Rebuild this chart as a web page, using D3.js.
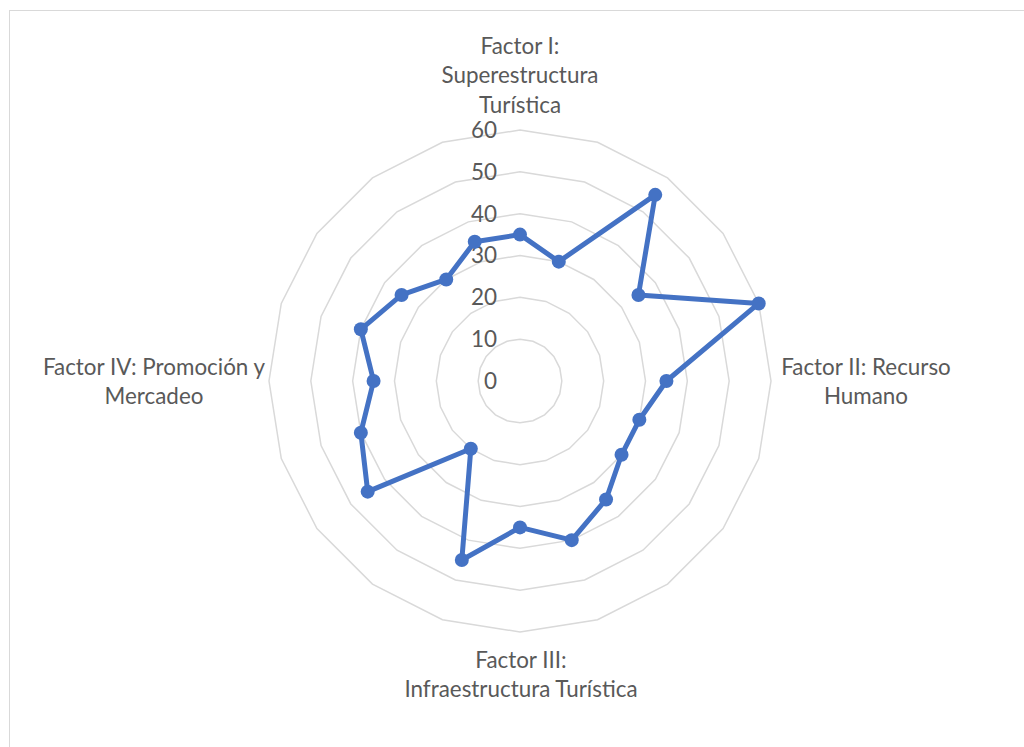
<!DOCTYPE html>
<html>
<head>
<meta charset="utf-8">
<script src="https://cdn.jsdelivr.net/npm/d3@7"></script>
<style>
  body { margin: 0; background: #fff; }
  text { font-family: Lato, "Liberation Sans", sans-serif; fill: #595959; }
</style>
</head>
<body>
<div id="container"></div>
<script>
// data, one value per spoke, clockwise from top
var values = [35, 30, 55, 35, 60, 35, 30, 30, 35, 40, 35, 45, 20, 45, 40, 35, 40, 35, 30, 35];
var ticks = [0, 10, 20, 30, 40, 50, 60];
// only four spokes carry a label
var axisLabels = [
  {i: 0,  lines: ["Factor I:", "Superestructura", "Turística"]},
  {i: 5,  lines: ["Factor II: Recurso", "Humano"]},
  {i: 10, lines: ["Factor III:", "Infraestructura Turística"]},
  {i: 15, lines: ["Factor IV: Promoción y", "Mercadeo"]}
];

var w = 1024, h = 747;
var cx = 520, cy = 381, R = 251;
var svg = d3.select("#container").append("svg")
  .attr("width", w).attr("height", h);

// chart area border
svg.append("rect")
  .attr("x", 9.5).attr("y", 10.5)
  .attr("width", w + 20).attr("height", h + 20)
  .attr("fill", "none").attr("stroke", "#d9d9d9").attr("stroke-width", 1);

var n = values.length;
var angle = d3.scaleLinear().domain([0, n]).range([0, 2 * Math.PI]);
var r = d3.scaleLinear().domain([0, 60]).range([0, R]);

var g = svg.append("g").attr("transform", "translate(" + cx + "," + cy + ")");

// grid rings
var ring = d3.lineRadial().curve(d3.curveLinearClosed);
g.selectAll("path.grid")
  .data(ticks.filter(function(t) { return t > 0; }))
  .enter().append("path")
  .attr("class", "grid")
  .attr("d", function(t) {
    return ring(d3.range(n).map(function(i) { return [angle(i), r(t)]; }));
  })
  .attr("fill", "none").attr("stroke", "#d9d9d9").attr("stroke-width", 1.5);

// tick labels
g.selectAll("text.tick")
  .data(ticks)
  .enter().append("text")
  .attr("class", "tick")
  .attr("x", -23)
  .attr("y", function(t) { return -r(t); })
  .attr("dy", "0.35em")
  .attr("text-anchor", "end")
  .style("font-size", "22.5px")
  .text(function(t) { return t; });

// series line
var line = d3.lineRadial()
  .angle(function(d, i) { return angle(i); })
  .radius(function(d) { return r(d); })
  .curve(d3.curveLinearClosed);

g.append("path")
  .datum(values)
  .attr("d", line)
  .attr("fill", "none").attr("stroke", "#4472c4")
  .attr("stroke-width", 5).attr("stroke-linejoin", "round");

g.selectAll("circle.pt")
  .data(values)
  .enter().append("circle")
  .attr("class", "pt")
  .attr("cx", function(d, i) { return r(d) * Math.sin(angle(i)); })
  .attr("cy", function(d, i) { return -r(d) * Math.cos(angle(i)); })
  .attr("r", 7)
  .attr("fill", "#4472c4");

// category labels
var labelPos = {
  0:  {x: 0,   y: -335},
  5:  {x: 346, y: -14},
  10: {x: 1,   y: 279},
  15: {x: -366, y: -14}
};
var lineH = 29.5;
axisLabels.forEach(function(a) {
  var p = labelPos[a.i];
  var t = g.append("text")
    .attr("text-anchor", "middle")
    .style("font-size", "22.4px");
  a.lines.forEach(function(s, k) {
    t.append("tspan")
      .attr("x", p.x)
      .attr("y", p.y + k * lineH)
      .attr("dy", "0.35em")
      .text(s);
  });
});
</script>
</body>
</html>
